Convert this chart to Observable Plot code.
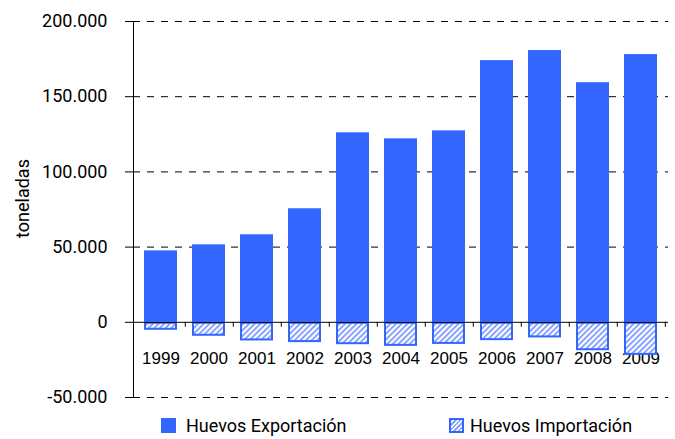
<!DOCTYPE html>
<html>
<head>
<meta charset="utf-8">
<script src="https://cdn.jsdelivr.net/npm/d3@7"></script>
<script src="https://cdn.jsdelivr.net/npm/@observablehq/plot@0.6"></script>
<style>
  html, body { margin: 0; padding: 0; background: #fff; }
  #wrap { position: relative; width: 675px; height: 439px; overflow: hidden; }
  #chart svg { display: block; }
  .leg { position: absolute; top: 418px; height: 15px; }
  .sw { position: absolute; top: 0; width: 15px; height: 15px; box-sizing: border-box; }
  .lt { position: absolute; top: -2px; font-family: Roboto, sans-serif; font-size: 18px; line-height: 19px; color: #000; white-space: nowrap; }
</style>
</head>
<body>
<div id="wrap">
  <div id="chart"></div>
  <div class="leg" style="left:161px">
    <div class="sw" style="left:0;background:#3366ff"></div>
    <div class="lt" style="left:25px">Huevos Exportación</div>
  </div>
  <div class="leg" style="left:449px">
    <div class="sw" style="left:0;border:2px solid #3366ff;background:repeating-linear-gradient(-45deg,#ffffff 0 1.6px,#8aa4ff 1.6px 3.2px)"></div>
    <div class="lt" style="left:21px">Huevos Importación</div>
  </div>
</div>
<script>
const years = ["1999","2000","2001","2002","2003","2004","2005","2006","2007","2008","2009"];
const exportacion = [47500, 51500, 58200, 75500, 126000, 122000, 127300, 174000, 180700, 159300, 178000];
const importacion = [-5300, -9300, -12400, -13500, -14900, -16000, -14700, -12200, -10400, -18900, -22000];
const yTicks = [-50000, 0, 50000, 100000, 150000, 200000];
const yLabel = "toneladas";

const rows = years.map((year, i) => ({year, exportacion: exportacion[i], importacion: importacion[i]}));
const fmt = d3.formatLocale({decimal: ",", thousands: ".", grouping: [3], currency: ["", ""], minus: "-"}).format(",");

const defs = () => {
  const d = d3.create("svg:defs");
  const p = d.append("pattern")
    .attr("id", "hatch")
    .attr("patternUnits", "userSpaceOnUse")
    .attr("width", 4).attr("height", 4)
    .attr("patternTransform", "rotate(45)");
  p.append("rect").attr("width", 4).attr("height", 4).attr("fill", "#ffffff");
  p.append("rect").attr("width", 2).attr("height", 4).attr("fill", "#8aa4ff");
  return d.node();
};

const chart = Plot.plot({
  width: 675,
  height: 412,
  marginTop: 21,
  marginBottom: 15,
  marginLeft: 133,
  marginRight: 7,
  style: {fontFamily: "Roboto, sans-serif", background: "#fff", color: "#000"},
  x: {type: "band", domain: years, paddingInner: 0.32, paddingOuter: 0.165, axis: null},
  y: {domain: [-50000, 200000], nice: false},
  marks: [
    defs,
    Plot.gridY(yTicks.filter(d => d !== 0), {stroke: "#000", strokeOpacity: 1, strokeDasharray: "7,7"}),
    Plot.barY(rows, {x: "year", y: "exportacion", fill: "#3366ff"}),
    Plot.text(rows, {x: "year", y: () => 0, text: "year", dy: 36, fontSize: 17, fontFamily: "Liberation Sans, Arial, sans-serif", fill: "#000"}),
    Plot.barY(rows, {x: "year", y: "importacion", fill: "url(#hatch)", stroke: "#3366ff", strokeWidth: 2, inset: 1}),
    Plot.ruleY([0], {stroke: "#000", strokeWidth: 1}),
    Plot.ruleX(rows, {x: "year", y1: () => 0, y2: () => 0, insetBottom: -5, dx: 24.3, stroke: "#000"}),
    Plot.frame({anchor: "left", stroke: "#000"}),
    Plot.axisY(yTicks, {tickFormat: fmt, tickSize: 8, tickPadding: 18, fontSize: 18, label: null}),
    Plot.text([yLabel], {frameAnchor: "left", textAnchor: "middle", rotate: -90, dx: -110, dy: -11, fontSize: 18, fill: "#000"})
  ]
});
document.getElementById("chart").appendChild(chart);
</script>
</body>
</html>
